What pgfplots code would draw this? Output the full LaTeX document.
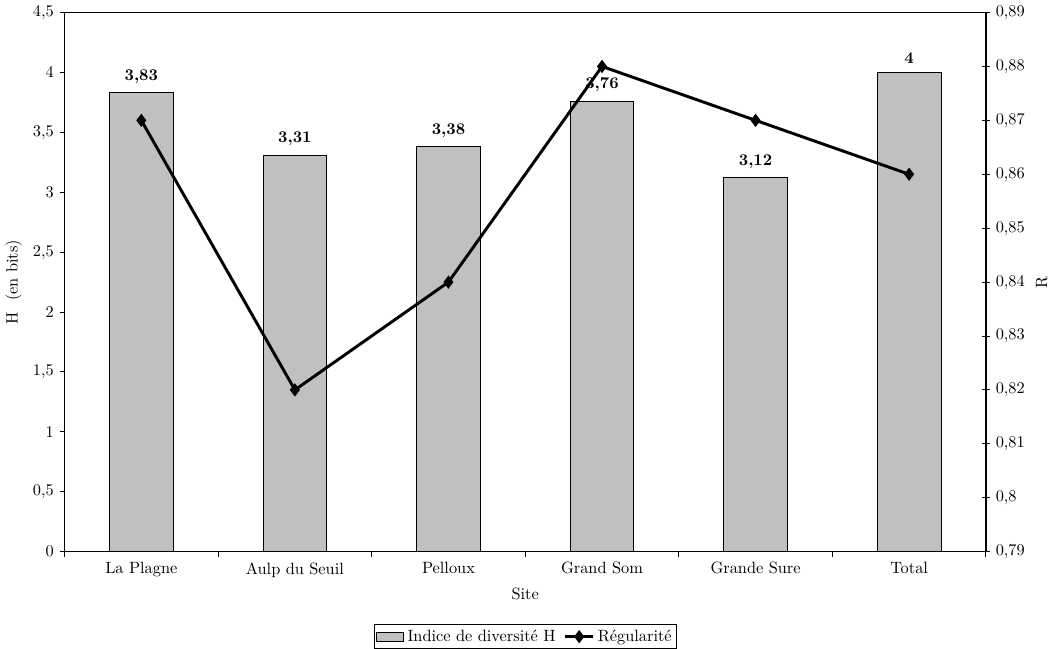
\documentclass[border=0pt]{standalone}
\usepackage{pgfplots}
\pgfplotsset{compat=1.18}
\definecolor{bargray}{RGB}{192,192,192}
\begin{document}
\begin{tikzpicture}
\pgfplotsset{every axis/.append style={
  /pgf/number format/use comma, /pgf/number format/1000 sep={},
  /pgf/number format/assume math mode=true,
  tick style={black, line width=0.6pt}, tick label style={font=\normalsize},
  label style={font=\normalsize}}}
\begin{axis}[
  scale only axis, width=564pt, height=330pt,
  xmin=-0.5, xmax=5.5, ymin=0, ymax=4.5,
  ytick={0,0.5,...,4.5},
  axis y line*=left, axis x line*=bottom,
  xtick={0,...,5},
  xticklabels={La Plagne, Aulp du Seuil, Pelloux, Grand Som, Grande Sure, Total},
  major x tick style={draw=none},
  minor xtick={-0.5,0.5,...,5.5},
  tick align=outside, major tick length=3pt, minor tick length=3pt,
  xlabel={Site}, ylabel={H\ \ (en bits)},
  ybar, bar width=39pt,
  nodes near coords,
  nodes near coords style={font=\normalsize\bfseries, yshift=2pt},
  axis line style={line width=0.6pt},
  clip=false,
]
\addplot[fill=bargray, draw=black, line width=0.5pt] coordinates {(0,3.83) (1,3.31) (2,3.38) (3,3.76) (4,3.12) (5,4)};
\draw[line width=0.6pt] (axis cs:-0.5,4.5) -- (axis cs:5.5,4.5);
\end{axis}
\begin{axis}[
  scale only axis, width=564pt, height=330pt,
  xmin=-0.5, xmax=5.5, ymin=0.79, ymax=0.89,
  ytick={0.79,0.80,...,0.89},
  yticklabel style={/pgf/number format/fixed, /pgf/number format/precision=2},
  axis y line*=right, axis x line=none,
  tick align=center, major tick length=5pt,
  axis line style={line width=1.2pt},
  ylabel={R},
  legend style={at={(0.5,-0.135)}, anchor=north, legend columns=2, font=\normalsize, draw=black, line width=0.5pt, inner sep=1pt,
    /tikz/every even column/.append style={column sep=3pt}},
  legend cell align=left,
]
\addlegendimage{area legend, fill=bargray, draw=black}
\addlegendentry{Indice de diversit\'e H}
\addplot[black, line width=1.8pt, mark=diamond*, mark size=2.6pt] coordinates {(0,0.87) (1,0.82) (2,0.84) (3,0.88) (4,0.87) (5,0.86)};
\addlegendentry{R\'egularit\'e}
\end{axis}
\end{tikzpicture}
\end{document}
